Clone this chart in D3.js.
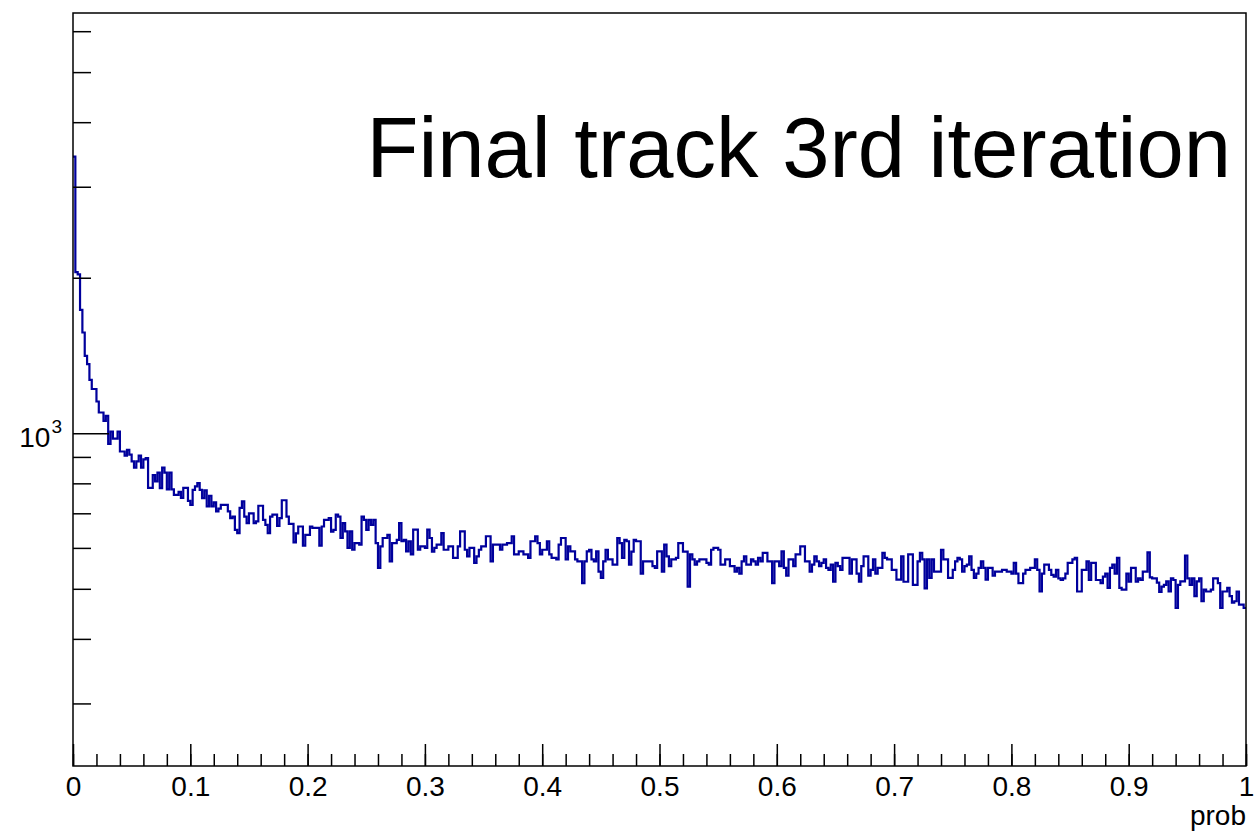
<!DOCTYPE html>
<html>
<head>
<meta charset="utf-8">
<script src="https://cdnjs.cloudflare.com/ajax/libs/d3/7.8.5/d3.min.js"></script>
<style>
body { margin: 0; background: #fff; }
text { font-family: "Liberation Sans", Arial, Helvetica, sans-serif; fill: #000; }
</style>
</head>
<body>
<main></main>
<script>
// bin contents, 500 bins over prob 0..1
var counts = [
  3430,2050,2030,1733,1567,1412,1361,1269,1218,1218,
  1152,1097,1097,1057,1081,954,1008,976,976,1008,
  922,922,905,929,909,882,858,882,905,858,
  890,895,784,784,830,807,839,783,858,839,
  779,839,779,760,760,770,750,784,784,740,
  727,777,789,801,777,749,775,722,757,722,
  735,706,715,727,727,727,706,685,690,650,
  641,717,738,690,670,700,700,670,675,724,
  724,680,665,641,690,696,696,662,685,742,
  742,690,668,668,615,640,660,660,606,636,
  636,660,656,656,656,606,660,680,680,685,
  645,650,696,690,627,670,646,600,646,595,
  613,613,609,690,680,650,680,665,680,613,
  549,604,627,627,636,565,613,613,622,670,
  618,622,591,618,583,651,651,595,604,604,
  600,651,627,590,600,609,609,641,595,595,
  604,604,574,574,604,646,646,595,578,600,
  600,561,578,595,604,604,632,632,565,609,
  609,609,595,609,609,613,613,632,583,583,
  591,591,583,583,574,618,618,632,613,583,
  595,595,618,583,574,574,570,609,627,627,
  570,604,591,591,570,565,565,513,565,591,
  595,570,565,591,540,525,565,595,570,570,
  557,557,627,613,574,622,618,557,590,622,
  618,618,535,565,565,565,565,553,549,591,
  591,540,609,578,553,570,570,574,613,613,
  590,590,505,583,570,557,565,570,570,570,
  561,557,595,600,600,595,557,557,570,570,
  553,553,540,549,535,565,578,557,557,570,
  565,557,574,565,587,587,565,565,513,565,
  565,553,591,549,530,570,570,553,583,583,
  604,604,565,565,540,557,578,565,553,561,
  570,549,544,557,516,561,553,544,574,574,
  574,535,570,570,535,516,553,578,578,530,
  544,570,535,549,549,587,574,570,570,544,
  544,521,521,578,516,516,583,583,509,509,
  565,587,570,501,570,525,570,540,540,540,
  595,570,570,525,525,544,565,574,570,540,
  553,557,578,544,525,535,549,565,549,521,
  549,549,530,540,540,540,544,544,540,540,
  535,561,535,513,513,535,544,544,549,549,
  570,544,494,535,557,557,544,532,528,544,
  524,520,524,535,561,561,570,574,494,494,
  544,544,565,520,561,561,520,520,513,528,
  535,502,549,557,535,574,502,498,498,535,
  516,549,549,516,524,520,540,540,588,526,
  524,524,514,493,505,509,517,494,524,520,
  459,509,517,517,580,524,509,524,484,517,
  524,473,498,494,494,498,524,524,513,459,
  494,494,502,484,470,473,494,466,466,459
];

var xDomain = [0, 1];
var yDomain = [227, 6507];
var xMajorTicks = [0, 0.1, 0.2, 0.3, 0.4, 0.5, 0.6, 0.7, 0.8, 0.9, 1];
var xTickLabels = ["0", "0.1", "0.2", "0.3", "0.4", "0.5", "0.6", "0.7", "0.8", "0.9", "1"];
var yMajorTicks = [1000];
var yMinorTicks = [300, 400, 500, 600, 700, 800, 900, 2000, 3000, 4000, 5000, 6000];
var title = "Final track 3rd iteration";
var xTitle = "prob";

var width = 1255;
var height = 832;
var padL = 73, padR = 1246, padT = 13, padB = 766;

var svg = d3.select("main").append("svg")
    .attr("width", width)
    .attr("height", height)
    .style("display", "block");

svg.append("rect")
    .attr("width", width)
    .attr("height", height)
    .attr("fill", "#fff");

var x = d3.scaleLinear().domain(xDomain).range([padL, padR]);
var y = d3.scaleLog().domain(yDomain).range([padB, padT]);

// histogram outline
var n = counts.length;
var pts = counts.map(function(c, i) { return [i / n, c]; });
pts.push([1, counts[n - 1]]);

var line = d3.line()
    .curve(d3.curveStepAfter)
    .x(function(d) { return x(d[0]); })
    .y(function(d) { return y(d[1]); });

svg.append("path")
    .attr("d", line(pts))
    .attr("fill", "none")
    .attr("stroke", "#00009c")
    .attr("stroke-width", 2.2);

// x axis: minor then major
var xMinor = d3.range(0, 1.0001, 0.02);
svg.append("g")
    .attr("transform", "translate(0," + padB + ")")
    .call(d3.axisBottom(x).tickValues(xMinor).tickSize(-12).tickSizeOuter(0).tickFormat(""))
    .call(function(g) { g.select(".domain").remove(); });

var gx = svg.append("g")
    .attr("transform", "translate(0," + padB + ")")
    .call(d3.axisBottom(x).tickValues(xMajorTicks).tickSize(-22).tickSizeOuter(0)
      .tickPadding(10)
      .tickFormat(function(d, i) { return xTickLabels[i]; }));
gx.select(".domain").remove();
gx.selectAll("text").attr("font-size", 28).attr("font-family", null);

// y axis
svg.append("g")
    .attr("transform", "translate(" + padL + ",0)")
    .call(d3.axisLeft(y).tickValues(yMinorTicks).tickSize(-18).tickSizeOuter(0).tickFormat(""))
    .call(function(g) { g.select(".domain").remove(); });

var gy = svg.append("g")
    .attr("transform", "translate(" + padL + ",0)")
    .call(d3.axisLeft(y).tickValues(yMajorTicks).tickSize(-36).tickSizeOuter(0)
      .tickPadding(11).tickFormat(function() { return "10"; }));
gy.select(".domain").remove();
gy.selectAll("text")
    .attr("font-size", 28)
    .attr("font-family", null)
    .attr("dy", "0.47em")
    .append("tspan")
    .attr("font-size", 19)
    .attr("dy", "-0.75em")
    .attr("dx", 1)
    .text("3");

svg.selectAll(".tick line").attr("stroke", "#000").attr("stroke-width", 1.5);

// frame
svg.append("rect")
    .attr("x", padL)
    .attr("y", padT)
    .attr("width", padR - padL)
    .attr("height", padB - padT)
    .attr("fill", "none")
    .attr("stroke", "#000")
    .attr("stroke-width", 1.5);

svg.append("text")
    .attr("x", padR)
    .attr("y", 825)
    .attr("text-anchor", "end")
    .attr("font-size", 28)
    .text(xTitle);

svg.append("text")
    .attr("x", 1231)
    .attr("y", 177)
    .attr("text-anchor", "end")
    .attr("font-size", 85)
    .text(title);
</script>
</body>
</html>
